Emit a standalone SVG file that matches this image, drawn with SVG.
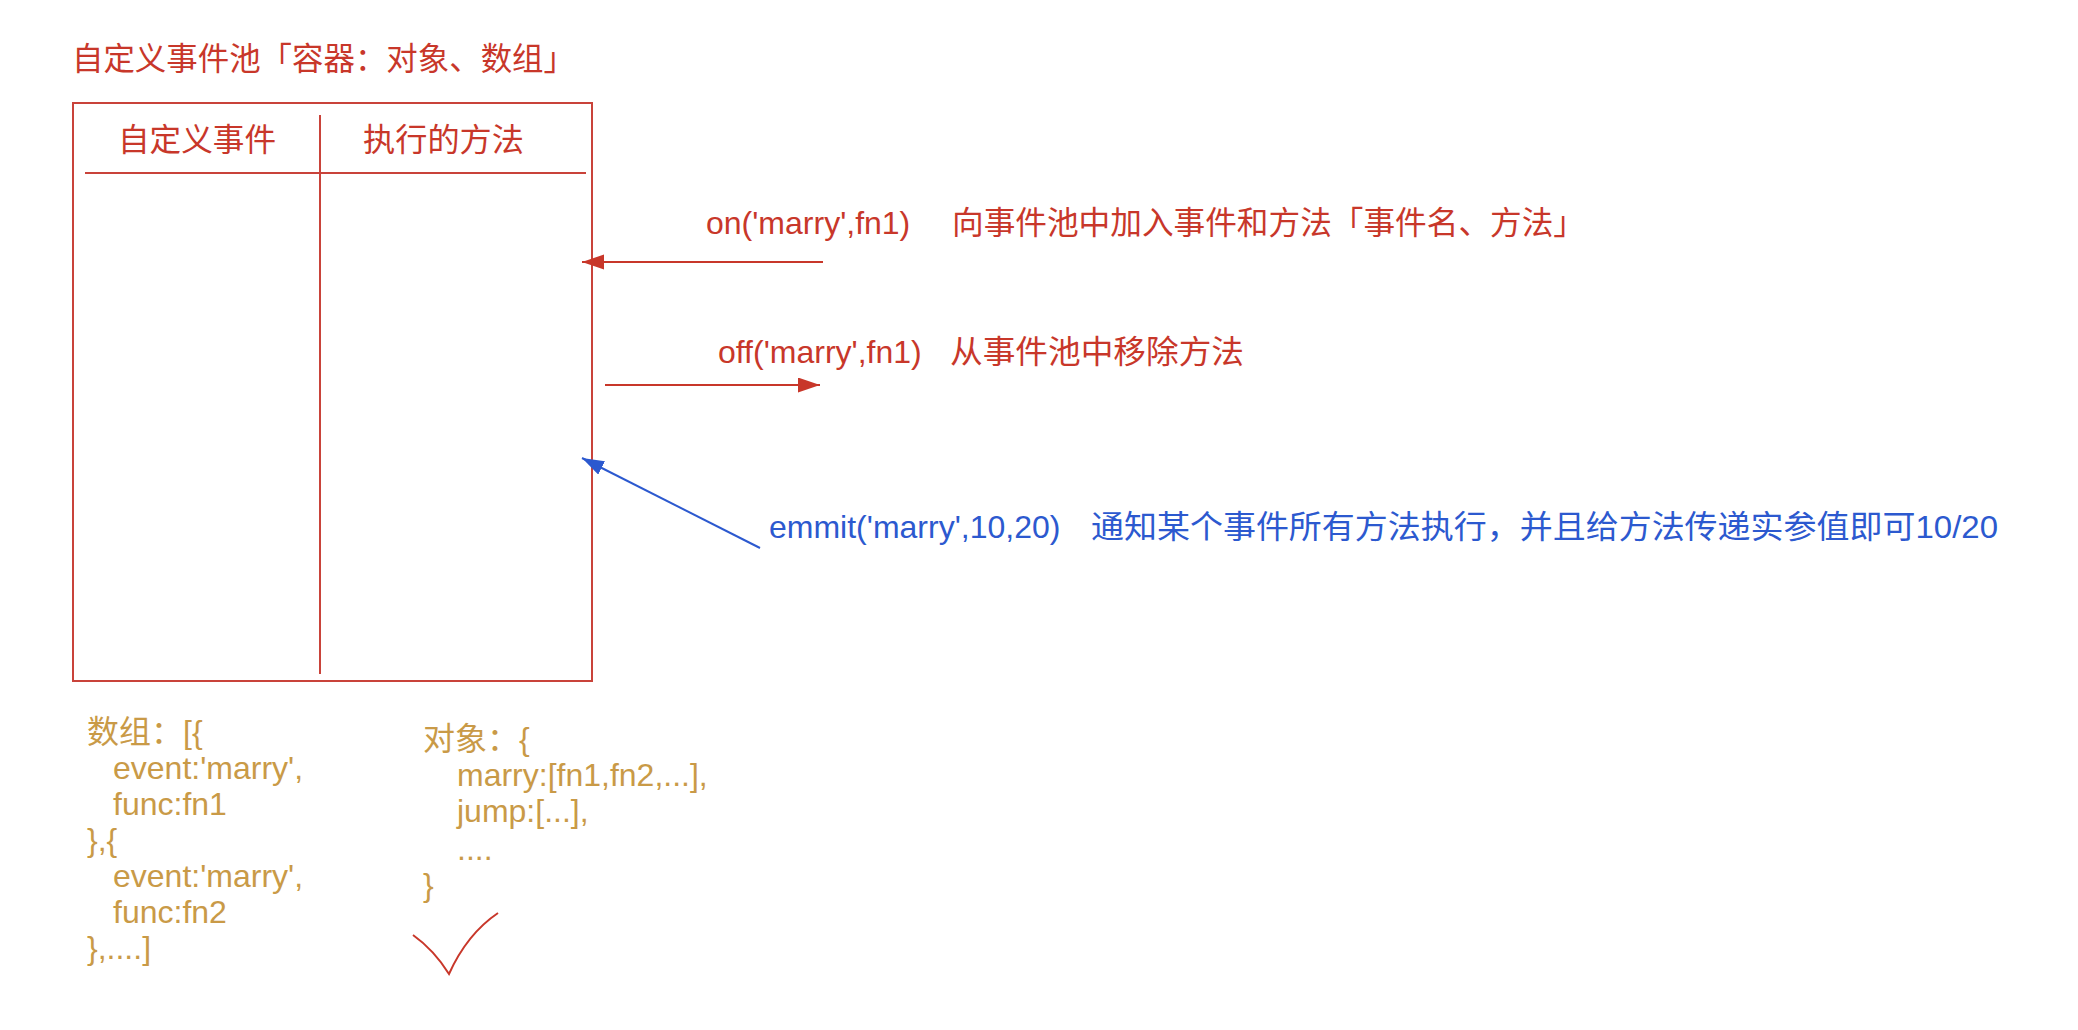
<svg xmlns="http://www.w3.org/2000/svg" width="2078" height="1030" viewBox="0 0 2078 1030">
<style>
  text { font-family: "Liberation Sans", "Noto Sans CJK SC", sans-serif; font-size: 32px; }
  .red { fill: #c8372a; }
  .blue { fill: #2c59cf; }
  .gold { fill: #c99a47; }
  .box { fill: none; stroke: #c9433a; stroke-width: 2; }
  .lnr { stroke: #c8372a; stroke-width: 2; fill: none; }
  .lnb { stroke: #2c59cf; stroke-width: 2; fill: none; }
</style>
<defs>
  <marker id="ahr" markerUnits="userSpaceOnUse" markerWidth="24" markerHeight="16" refX="22" refY="7.5" orient="auto">
    <path d="M0,0 L22,7.5 L0,15 z" fill="#c8372a"/>
  </marker>
  <marker id="ahb" markerUnits="userSpaceOnUse" markerWidth="24" markerHeight="16" refX="22" refY="7.5" orient="auto">
    <path d="M0,0 L22,7.5 L0,15 z" fill="#2c59cf"/>
  </marker>
</defs>
<rect width="2078" height="1030" fill="#ffffff"/>

<g id="title">
  <text class="red" x="72" y="70" textLength="503" lengthAdjust="spacingAndGlyphs">自定义事件池「容器：对象、数组」</text>
</g>

<g id="pool">
  <rect class="box" x="73" y="103" width="519" height="578"/>
  <line class="box" x1="85" y1="173" x2="586" y2="173"/>
  <line class="box" x1="320" y1="115" x2="320" y2="674"/>
  <text class="red" x="118" y="151" textLength="158" lengthAdjust="spacingAndGlyphs">自定义事件</text>
  <text class="red" x="363" y="151" textLength="161" lengthAdjust="spacingAndGlyphs">执行的方法</text>
</g>

<g id="connectors">
  <line class="lnr" x1="823" y1="262" x2="582" y2="262" marker-end="url(#ahr)"/>
  <line class="lnr" x1="605" y1="385" x2="820" y2="385" marker-end="url(#ahr)"/>
  <line class="lnb" x1="760" y1="548" x2="582" y2="458" marker-end="url(#ahb)"/>
</g>

<g id="on-label">
  <text class="red" x="706" y="234">on('marry',fn1)</text>
  <text class="red" x="952" y="234" textLength="633" lengthAdjust="spacingAndGlyphs">向事件池中加入事件和方法「事件名、方法」</text>
</g>

<g id="off-label">
  <text class="red" x="718" y="363">off('marry',fn1)</text>
  <text class="red" x="950" y="363" textLength="294" lengthAdjust="spacingAndGlyphs">从事件池中移除方法</text>
</g>

<g id="emmit-label">
  <text class="blue" x="769" y="538">emmit('marry',10,20)</text>
  <text class="blue" x="1091" y="538" textLength="907" lengthAdjust="spacingAndGlyphs">通知某个事件所有方法执行，并且给方法传递实参值即可10/20</text>
</g>

<g id="array-note">
  <text class="gold" x="87" y="743">数组：[{</text>
  <text class="gold" x="113" y="779">event:'marry',</text>
  <text class="gold" x="113" y="815">func:fn1</text>
  <text class="gold" x="87" y="851">},{</text>
  <text class="gold" x="113" y="887">event:'marry',</text>
  <text class="gold" x="113" y="923">func:fn2</text>
  <text class="gold" x="87" y="959">},....]</text>
</g>

<g id="object-note">
  <text class="gold" x="423" y="750">对象：{</text>
  <text class="gold" x="457" y="786">marry:[fn1,fn2,...],</text>
  <text class="gold" x="457" y="822">jump:[...],</text>
  <text class="gold" x="457" y="860">....</text>
  <text class="gold" x="423" y="896">}</text>
</g>

<g id="checkmark">
  <path class="lnr" d="M413,935 Q434,950 449,974 Q467,934 498,913"/>
</g>
</svg>
